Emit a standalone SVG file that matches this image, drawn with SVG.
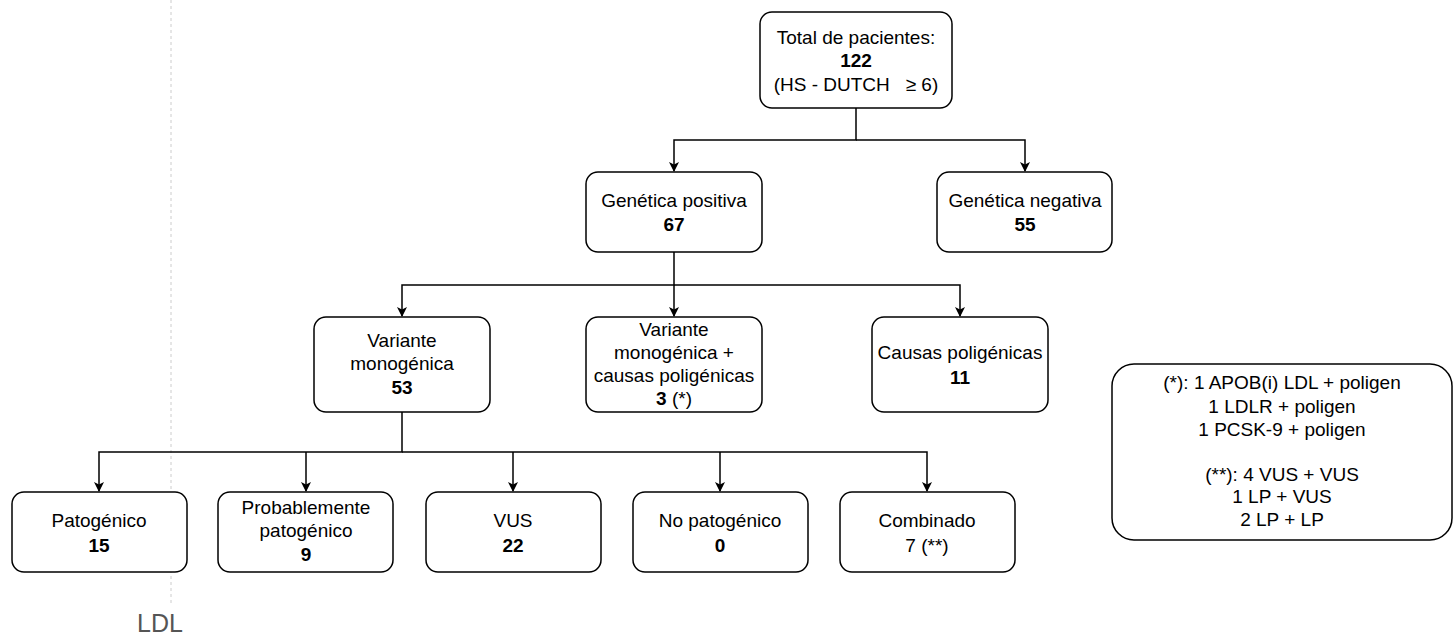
<svg xmlns="http://www.w3.org/2000/svg" width="1454" height="635" viewBox="0 0 1454 635">
<style>
.box{fill:#fff;stroke:#000;stroke-width:1.5}
.t{font-family:"Liberation Sans",Arial,sans-serif;font-size:19px;fill:#000;text-anchor:middle}
.b{font-weight:bold}
.c{fill:none;stroke:#000;stroke-width:1.5}
</style>
<defs>
<marker id="arr" viewBox="0 0 10 10" refX="9" refY="5" markerWidth="10" markerHeight="10" markerUnits="userSpaceOnUse" orient="auto">
<path d="M0,0 L10,5 L0,10 L2.5,5 z" fill="#000"/>
</marker>
</defs>
<line x1="171" y1="0" x2="171" y2="605" stroke="#ccc" stroke-width="1" stroke-dasharray="3 3"/>
<text x="137" y="632" font-family="Liberation Sans,Arial,sans-serif" font-size="25" fill="#555">LDL</text>
<g id="connectors">
<path class="c" d="M856,108 V140 H674 V171" marker-end="url(#arr)"/>
<path class="c" d="M856,140 H1025 V171" marker-end="url(#arr)"/>
<path class="c" d="M674,252 V285 H402 V316" marker-end="url(#arr)"/>
<path class="c" d="M674,285 V316" marker-end="url(#arr)"/>
<path class="c" d="M674,285 H960 V316" marker-end="url(#arr)"/>
<path class="c" d="M402,412 V452 H99 V491" marker-end="url(#arr)"/>
<path class="c" d="M402,452 H927 V491" marker-end="url(#arr)"/>
<path class="c" d="M306,452 V491" marker-end="url(#arr)"/>
<path class="c" d="M513,452 V491" marker-end="url(#arr)"/>
<path class="c" d="M720,452 V491" marker-end="url(#arr)"/>
</g>
<g id="total">
<rect class="box" x="760" y="12" width="192" height="96" rx="12"/>
<text class="t" x="856" y="44">Total de pacientes:</text>
<text class="t b" x="856" y="67">122</text>
<text class="t" x="856" y="91">(HS - DUTCH &#160; ≥ 6)</text>
</g>
<g id="positiva">
<rect class="box" x="586" y="172" width="176" height="80" rx="12"/>
<text class="t" x="674" y="207">Genética positiva</text>
<text class="t b" x="674" y="231">67</text>
</g>
<g id="negativa">
<rect class="box" x="937" y="172" width="175" height="80" rx="12"/>
<text class="t" x="1025" y="207">Genética negativa</text>
<text class="t b" x="1025" y="231">55</text>
</g>
<g id="monogenica">
<rect class="box" x="314" y="317" width="176" height="95" rx="12"/>
<text class="t" x="402" y="347">Variante</text>
<text class="t" x="402" y="370">monogénica</text>
<text class="t b" x="402" y="394">53</text>
</g>
<g id="mixta">
<rect class="box" x="586" y="317" width="176" height="95" rx="12"/>
<text class="t" x="674" y="336">Variante</text>
<text class="t" x="674" y="359">monogénica +</text>
<text class="t" x="674" y="382">causas poligénicas</text>
<text class="t" x="674" y="405"><tspan class="b">3</tspan> (*)</text>
</g>
<g id="poligenicas">
<rect class="box" x="872" y="317" width="176" height="95" rx="12"/>
<text class="t" x="960" y="359">Causas poligénicas</text>
<text class="t b" x="960" y="384">11</text>
</g>
<g id="patogenico">
<rect class="box" x="12" y="492" width="175" height="80" rx="12"/>
<text class="t" x="99" y="527">Patogénico</text>
<text class="t b" x="99" y="552">15</text>
</g>
<g id="probable">
<rect class="box" x="218" y="492" width="175" height="80" rx="12"/>
<text class="t" x="306" y="514">Probablemente</text>
<text class="t" x="306" y="537">patogénico</text>
<text class="t b" x="306" y="561">9</text>
</g>
<g id="vus">
<rect class="box" x="426" y="492" width="175" height="80" rx="12"/>
<text class="t" x="513" y="527">VUS</text>
<text class="t b" x="513" y="552">22</text>
</g>
<g id="nopatogenico">
<rect class="box" x="633" y="492" width="175" height="80" rx="12"/>
<text class="t" x="720" y="527">No patogénico</text>
<text class="t b" x="720" y="552">0</text>
</g>
<g id="combinado">
<rect class="box" x="840" y="492" width="175" height="80" rx="12"/>
<text class="t" x="927" y="527">Combinado</text>
<text class="t" x="927" y="552">7 (**)</text>
</g>
<g id="nota">
<rect class="box" x="1112" y="364" width="340" height="176" rx="22"/>
<text class="t" x="1282" y="389">(*): 1 APOB(i) LDL + poligen</text>
<text class="t" x="1282" y="413">1 LDLR + poligen</text>
<text class="t" x="1282" y="436">1 PCSK-9 + poligen</text>
<text class="t" x="1282" y="481">(**): 4 VUS + VUS</text>
<text class="t" x="1282" y="503">1 LP + VUS</text>
<text class="t" x="1282" y="526">2 LP + LP</text>
</g>
</svg>
